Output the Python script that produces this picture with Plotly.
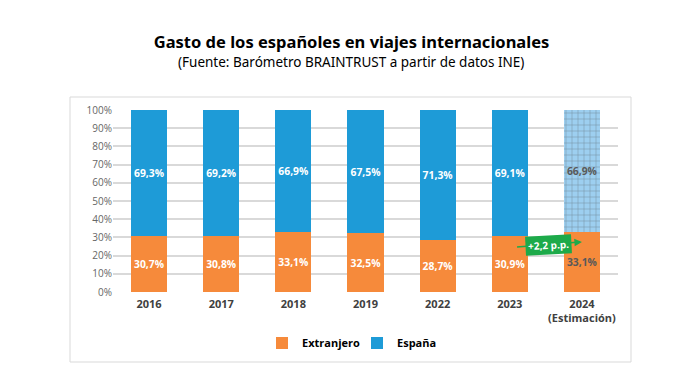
import plotly.graph_objects as go

years = ["2016", "2017", "2018", "2019", "2022", "2023", "2024<br>(Estimación)"]
extranjero = [30.7, 30.8, 33.1, 32.5, 28.7, 30.9, 33.1]
espana = [69.3, 69.2, 66.9, 67.5, 71.3, 69.1, 66.9]
y_ticks = [0, 10, 20, 30, 40, 50, 60, 70, 80, 90, 100]
y_tick_labels = [f"{v}%" for v in y_ticks]

ORANGE = "#F68A3B"
BLUE = "#1E9BD7"
LIGHTBLUE = "#9DCFF0"
GREEN = "#1DAA4A"
lab_font = "Open Sans"

n = len(years)
fig = go.Figure()
fig.add_bar(
    x=years, y=extranjero, name="Extranjero",
    marker=dict(color=ORANGE, line=dict(width=0)),
    texttemplate="<b>%{y:.1f}%</b>", textposition="inside", insidetextanchor="middle",
    textfont=dict(family=lab_font, size=11, color=["white"] * (n - 1) + ["#595959"]),
    textangle=0,
)
fig.add_bar(
    x=years, y=espana, name="España",
    marker=dict(color=[BLUE] * (n - 1) + [LIGHTBLUE], line=dict(width=0),
                pattern=dict(shape=[""] * (n - 1) + ["+"], fillmode="overlay",
                             fgcolor="white", size=6, solidity=0.15)),
    texttemplate="<b>%{y:.1f}%</b>", textposition="inside", insidetextanchor="middle",
    textfont=dict(family=lab_font, size=11, color=["white"] * (n - 1) + ["#595959"]),
    textangle=0,
)

fig.update_layout(
    width=683, height=376,
    barmode="stack", bargap=0.5,
    separators=",.",
    paper_bgcolor="white", plot_bgcolor="white",
    margin=dict(l=105, r=73, t=102, b=92, autoexpand=False),
    font=dict(family=lab_font, color="#595959"),
    title=dict(text="<b>Gasto de los españoles en viajes internacionales</b>",
               x=(351.5 - 8) / 683, xref="container", y=1 - 34 / 376, yref="container",
               xanchor="center", yanchor="middle",
               font=dict(family="Noto Sans", size=16.5, color="black")),
    legend=dict(orientation="h", x=(262 - 113) / 505, xanchor="left", y=-0.28, yanchor="middle",
                font=dict(family=lab_font, size=11, color="black", weight="bold"),
                itemwidth=30, traceorder="normal", entrywidth=50, entrywidthmode="pixels"),
    xaxis=dict(type="category", tickfont=dict(family=lab_font, size=11, color="#404040", weight="bold"),
               showgrid=False, ticks="", showline=False, ticklabelstandoff=4),
    yaxis=dict(range=[0, 100], tickvals=y_ticks, ticktext=y_tick_labels,
               tickfont=dict(family=lab_font, size=10, color="#666666"),
               showgrid=True, gridcolor="#D9D9D9", gridwidth=1.5, zeroline=False),
    shapes=[dict(type="rect", xref="paper", yref="paper",
                 x0=(70 - 113) / 505, x1=(631 - 113) / 505,
                 y0=(292 - 362) / 182, y1=(292 - 97) / 182,
                 line=dict(color="#D9D9D9", width=1), layer="below")],
    annotations=[
        dict(text="(Fuente: Barómetro BRAINTRUST a partir de datos INE)",
             xref="paper", yref="paper", x=(350.5 - 113) / 505, y=(292 - 62) / 182,
             showarrow=False, xanchor="center", yanchor="middle",
             font=dict(family="Noto Sans", size=13.5, color="black")),
        dict(x=6, y=27.5, ax=5.08, ay=24.7, xref="x", yref="y", axref="x", ayref="y",
             text="", showarrow=True, arrowhead=2, arrowsize=1, arrowwidth=1.5,
             arrowcolor=GREEN),
        dict(x=5.54, y=25.8, xref="x", yref="y", text="<b>+2,2 p.p.</b>",
             showarrow=False, bgcolor=GREEN, textangle=-3,
             font=dict(family=lab_font, size=10, color="white"), borderpad=2),
    ],
)

fig.write_html("out.html")
